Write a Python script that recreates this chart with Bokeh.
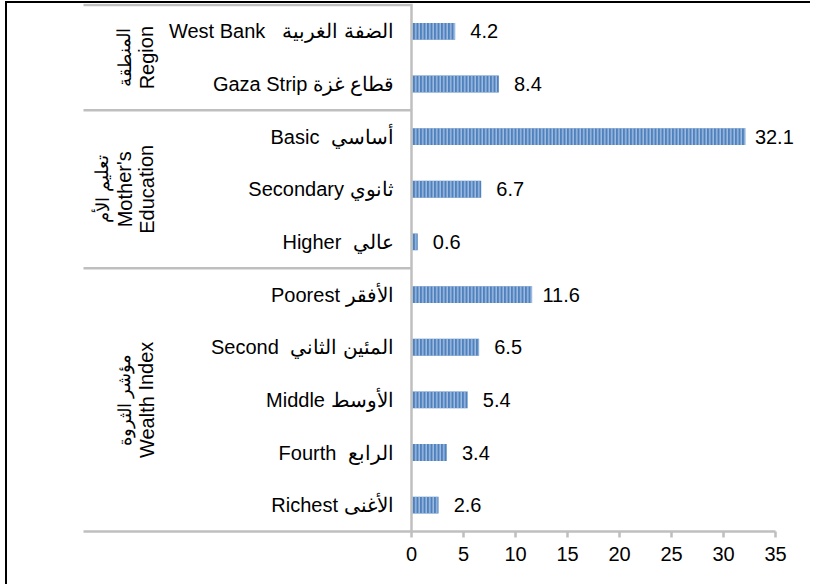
from bokeh.plotting import figure
from bokeh.models import Range1d, FixedTicker, ColumnDataSource
from bokeh.core.properties import value
from bokeh.embed import file_html
from bokeh.resources import INLINE

# ---- data ----
cat_en = ["West Bank", "Gaza Strip", "Basic", "Secondary", "Higher",
          "Poorest", "Second", "Middle", "Fourth", "Richest"]
cat_ar = ["الضفة الغربية", "قطاع غزة", "أساسي", "ثانوي", "عالي",
          "الأفقر", "المئين الثاني", "الأوسط", "الرابع", "الأغنى"]
values = [4.2, 8.4, 32.1, 6.7, 0.6, 11.6, 6.5, 5.4, 3.4, 2.6]
group_lines = [["المنطقة", "Region"],
               ["تعليم الأم", "Mother's", "Education"],
               ["مؤشر الثروة", "Wealth Index"]]
group_sizes = [2, 3, 5]
x_ticks = [0, 5, 10, 15, 20, 25, 30, 35]

# ---- layout helpers ----
FONT = "Liberation Sans"
GRAY = "#BFBFBF"
OX, OY = 7, 3                  # page offset of the figure content
PX = 10.4                      # pixels per unit on x
ORIGIN = 411 - OX              # pixel of x=0 inside the frame
W, H = 805, 583
FRAME_H = 531 - OY
MB = H - FRAME_H               # bottom border for axis
n = len(values)
TOPPAD = 1.5
PY = (FRAME_H - TOPPAD) / n    # pixels per row

def xd(page_px):
    return (page_px - OX - ORIGIN) / PX

xmin = xd(OX)
xmax = xd(OX + W)
p = figure(width=W, height=H, x_range=Range1d(xmin, xmax),
           y_range=Range1d(0, n + TOPPAD / PY),
           output_backend="svg", toolbar_location=None,
           y_axis_location=None, min_border_left=0, min_border_right=0,
           min_border_top=0, min_border_bottom=MB)
p.styles = {"margin-left": "5px", "margin-top": "1px",
            "border-left": "2px solid black", "border-top": "2px solid black"}
p.outline_line_color = None
p.xgrid.visible = False
p.ygrid.visible = False
p.background_fill_color = "white"
p.border_fill_color = "white"

ys = [n - i - 0.5 for i in range(n)]
labels = []
gaps = [3, 1, 2, 1, 2, 1, 2, 1, 2, 1]
for en, ar, g in zip(cat_en, cat_ar, gaps):
    labels.append(en + "\u00a0" * g + ar)
src = ColumnDataSource(dict(y=ys, v=values, lab=labels,
                            vt=[f"{v:.1f}" for v in values],
                            zero=[0] * n))

p.hbar(y="y", left=0, right="v", height=0.32, source=src,
       fill_color="#4F81BD", line_color=None,
       hatch_pattern="vertical_line", hatch_color="#A9C4E6",
       hatch_scale=3.5, hatch_weight=1.3)

# category labels
p.text(x="zero", y="y", text="lab", source=src, x_offset=-18,
       text_align="right", text_baseline="middle",
       text_font=value(FONT), text_font_size="20px", text_color="black")
# value labels
p.text(x="v", y="y", text="vt", source=src, x_offset=29,
       text_align="center", text_baseline="middle",
       text_font=value(FONT), text_font_size="20px", text_color="black")

# group separators and group labels
sep_x0 = xd(83)
bounds = [n]
acc = n
for s in group_sizes:
    acc -= s
    bounds.append(acc)
p.segment(x0=[sep_x0] * (len(bounds) - 1), y0=bounds[:-1],
          x1=[0] * (len(bounds) - 1), y1=bounds[:-1],
          line_color=GRAY, line_width=2.5)

last_x = xd(146)
step = 22 / PX
for gi, lines in enumerate(group_lines):
    yc = (bounds[gi] + bounds[gi + 1]) / 2
    k = len(lines)
    for j, t in enumerate(lines):
        is_ar = any("\u0600" <= ch <= "\u06ff" for ch in t)
        p.text(x=[last_x - (k - 1 - j) * step], y=[yc], text=[t],
               angle=1.5708, text_align="center", text_baseline="middle",
               text_font=value(FONT),
               text_font_size="18px" if is_ar else "20px",
               text_color="black")

# value axis line (vertical) at x = 0
p.segment(x0=[0], y0=[0], x1=[0], y1=[n + TOPPAD / PY],
          line_color=GRAY, line_width=2.5)

ax = p.xaxis[0]
ax.ticker = FixedTicker(ticks=x_ticks)
ax.bounds = (sep_x0, max(x_ticks))
ax.axis_line_color = GRAY
ax.axis_line_width = 2.5
ax.major_tick_line_color = GRAY
ax.major_tick_line_width = 2.5
ax.major_tick_out = 6
ax.major_tick_in = 0
ax.minor_tick_line_color = None
ax.major_label_standoff = 9
ax.major_label_text_font = FONT
ax.major_label_text_font_size = "20px"
ax.major_label_text_color = "black"

open("out.html", "w").write(file_html(p, INLINE))
